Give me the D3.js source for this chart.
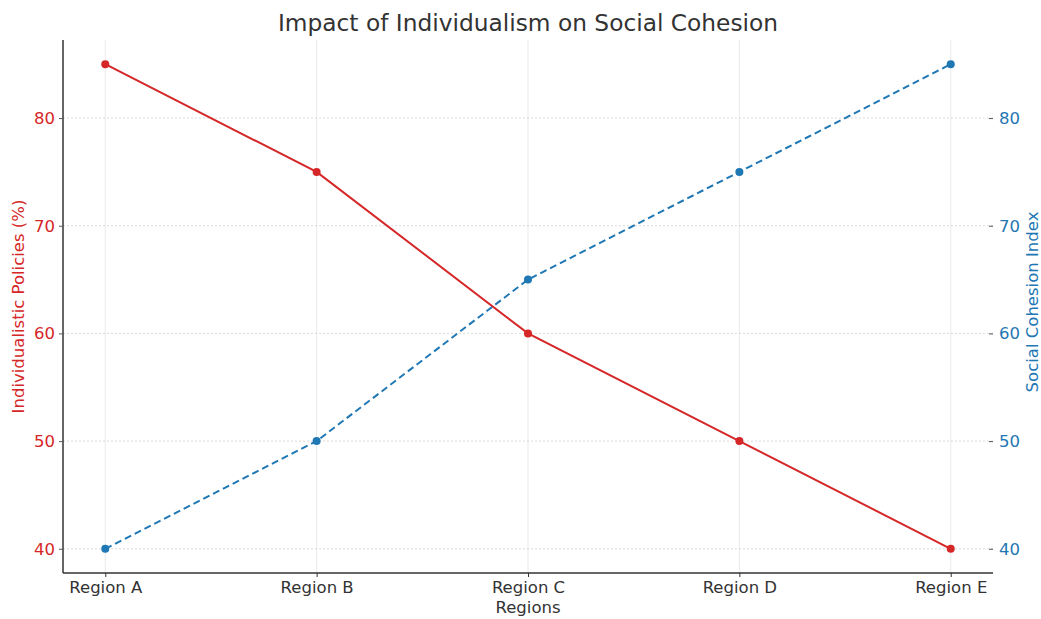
<!DOCTYPE html>
<html><head><meta charset="utf-8">
<script src="https://cdn.jsdelivr.net/npm/d3@7"></script>
<style>body{margin:0;background:#fff}svg{display:block}</style>
</head><body>
<svg id="c" width="1041" height="619"></svg>
<script>
const categories = ["Region A","Region B","Region C","Region D","Region E"];
const individualism = [85,75,60,50,40];
const cohesion = [40,50,65,75,85];
const yTicks = [40,50,60,70,80];

const W=1041,H=619;
const m={left:63,right:993,top:40,bottom:573};
const svg=d3.select("#c");
const font="DejaVu Sans, sans-serif";
const red="#d62728", blue="#1f77b4";
const fs=16.5;

const x=d3.scalePoint().domain(categories).range([m.left,m.right]).padding(0.2);
const yL=d3.scaleLinear().domain([37.75,87.25]).range([m.bottom,m.top]);
const yR=d3.scaleLinear().domain([37.75,87.25]).range([m.bottom,m.top]);

// grid
const g=svg.append("g");
g.selectAll(".vg").data(categories).join("line")
 .attr("x1",d=>x(d)).attr("x2",d=>x(d)).attr("y1",m.top).attr("y2",m.bottom)
 .attr("stroke","#e3e3e3").attr("stroke-width",0.8);
g.selectAll(".hg").data(yTicks).join("line")
 .attr("x1",m.left).attr("x2",m.right).attr("y1",d=>yL(d)).attr("y2",d=>yL(d))
 .attr("stroke","#d0d0d0").attr("stroke-width",0.8).attr("stroke-dasharray","2,2");

// axes
const xa=svg.append("g").attr("transform",`translate(0,${m.bottom})`)
 .call(d3.axisBottom(x).tickSize(4).tickPadding(4));
xa.select(".domain").attr("d",`M${m.left},0H${m.right}`).attr("stroke","#333").attr("stroke-width",1.5);
xa.selectAll(".tick line").attr("stroke","#333");
xa.selectAll("text").attr("font-family",font).attr("font-size",fs).attr("fill","#333");

const la=svg.append("g").attr("transform",`translate(${m.left},0)`)
 .call(d3.axisLeft(yL).tickValues(yTicks).tickSize(4).tickPadding(4));
la.select(".domain").attr("d",`M0,${m.top}V${m.bottom}`).attr("stroke","#333").attr("stroke-width",1.5);
la.selectAll(".tick line").attr("stroke","#555");
la.selectAll("text").attr("font-family",font).attr("font-size",fs).attr("fill",red);

const ra=svg.append("g").attr("transform",`translate(${m.right-4},0)`)
 .call(d3.axisRight(yR).tickValues(yTicks).tickSize(4).tickPadding(6));
ra.select(".domain").remove();
ra.selectAll(".tick line").attr("stroke","#555");
ra.selectAll("text").attr("font-family",font).attr("font-size",fs).attr("fill",blue);

// lines
const lineL=d3.line().x((d,i)=>x(categories[i])).y(d=>yL(d));
const lineR=d3.line().x((d,i)=>x(categories[i])).y(d=>yR(d));
svg.append("path").attr("d",lineL(individualism)).attr("fill","none").attr("stroke",red).attr("stroke-width",2);
svg.selectAll(".pl").data(individualism).join("circle")
 .attr("cx",(d,i)=>x(categories[i])).attr("cy",d=>yL(d)).attr("r",4).attr("fill",red);
svg.append("path").attr("d",lineR(cohesion)).attr("fill","none").attr("stroke",blue).attr("stroke-width",2).attr("stroke-dasharray","7,4");
svg.selectAll(".pr").data(cohesion).join("circle")
 .attr("cx",(d,i)=>x(categories[i])).attr("cy",d=>yR(d)).attr("r",4).attr("fill",blue);

// labels
svg.append("text").attr("x",(m.left+m.right)/2).attr("y",31).attr("text-anchor","middle")
 .attr("font-family",font).attr("font-size",23.3).attr("fill","#333").text("Impact of Individualism on Social Cohesion");
svg.append("text").attr("x",(m.left+m.right)/2).attr("y",613).attr("text-anchor","middle")
 .attr("font-family",font).attr("font-size",fs).attr("fill","#333").text("Regions");
svg.append("text").attr("transform",`translate(24,${(m.top+m.bottom)/2}) rotate(-90)`).attr("text-anchor","middle")
 .attr("font-family",font).attr("font-size",fs).attr("fill",red).text("Individualistic Policies (%)");
svg.append("text").attr("transform",`translate(1038,302) rotate(-90)`).attr("text-anchor","middle")
 .attr("font-family",font).attr("font-size",fs).attr("fill",blue).text("Social Cohesion Index");
</script>
</body></html>
